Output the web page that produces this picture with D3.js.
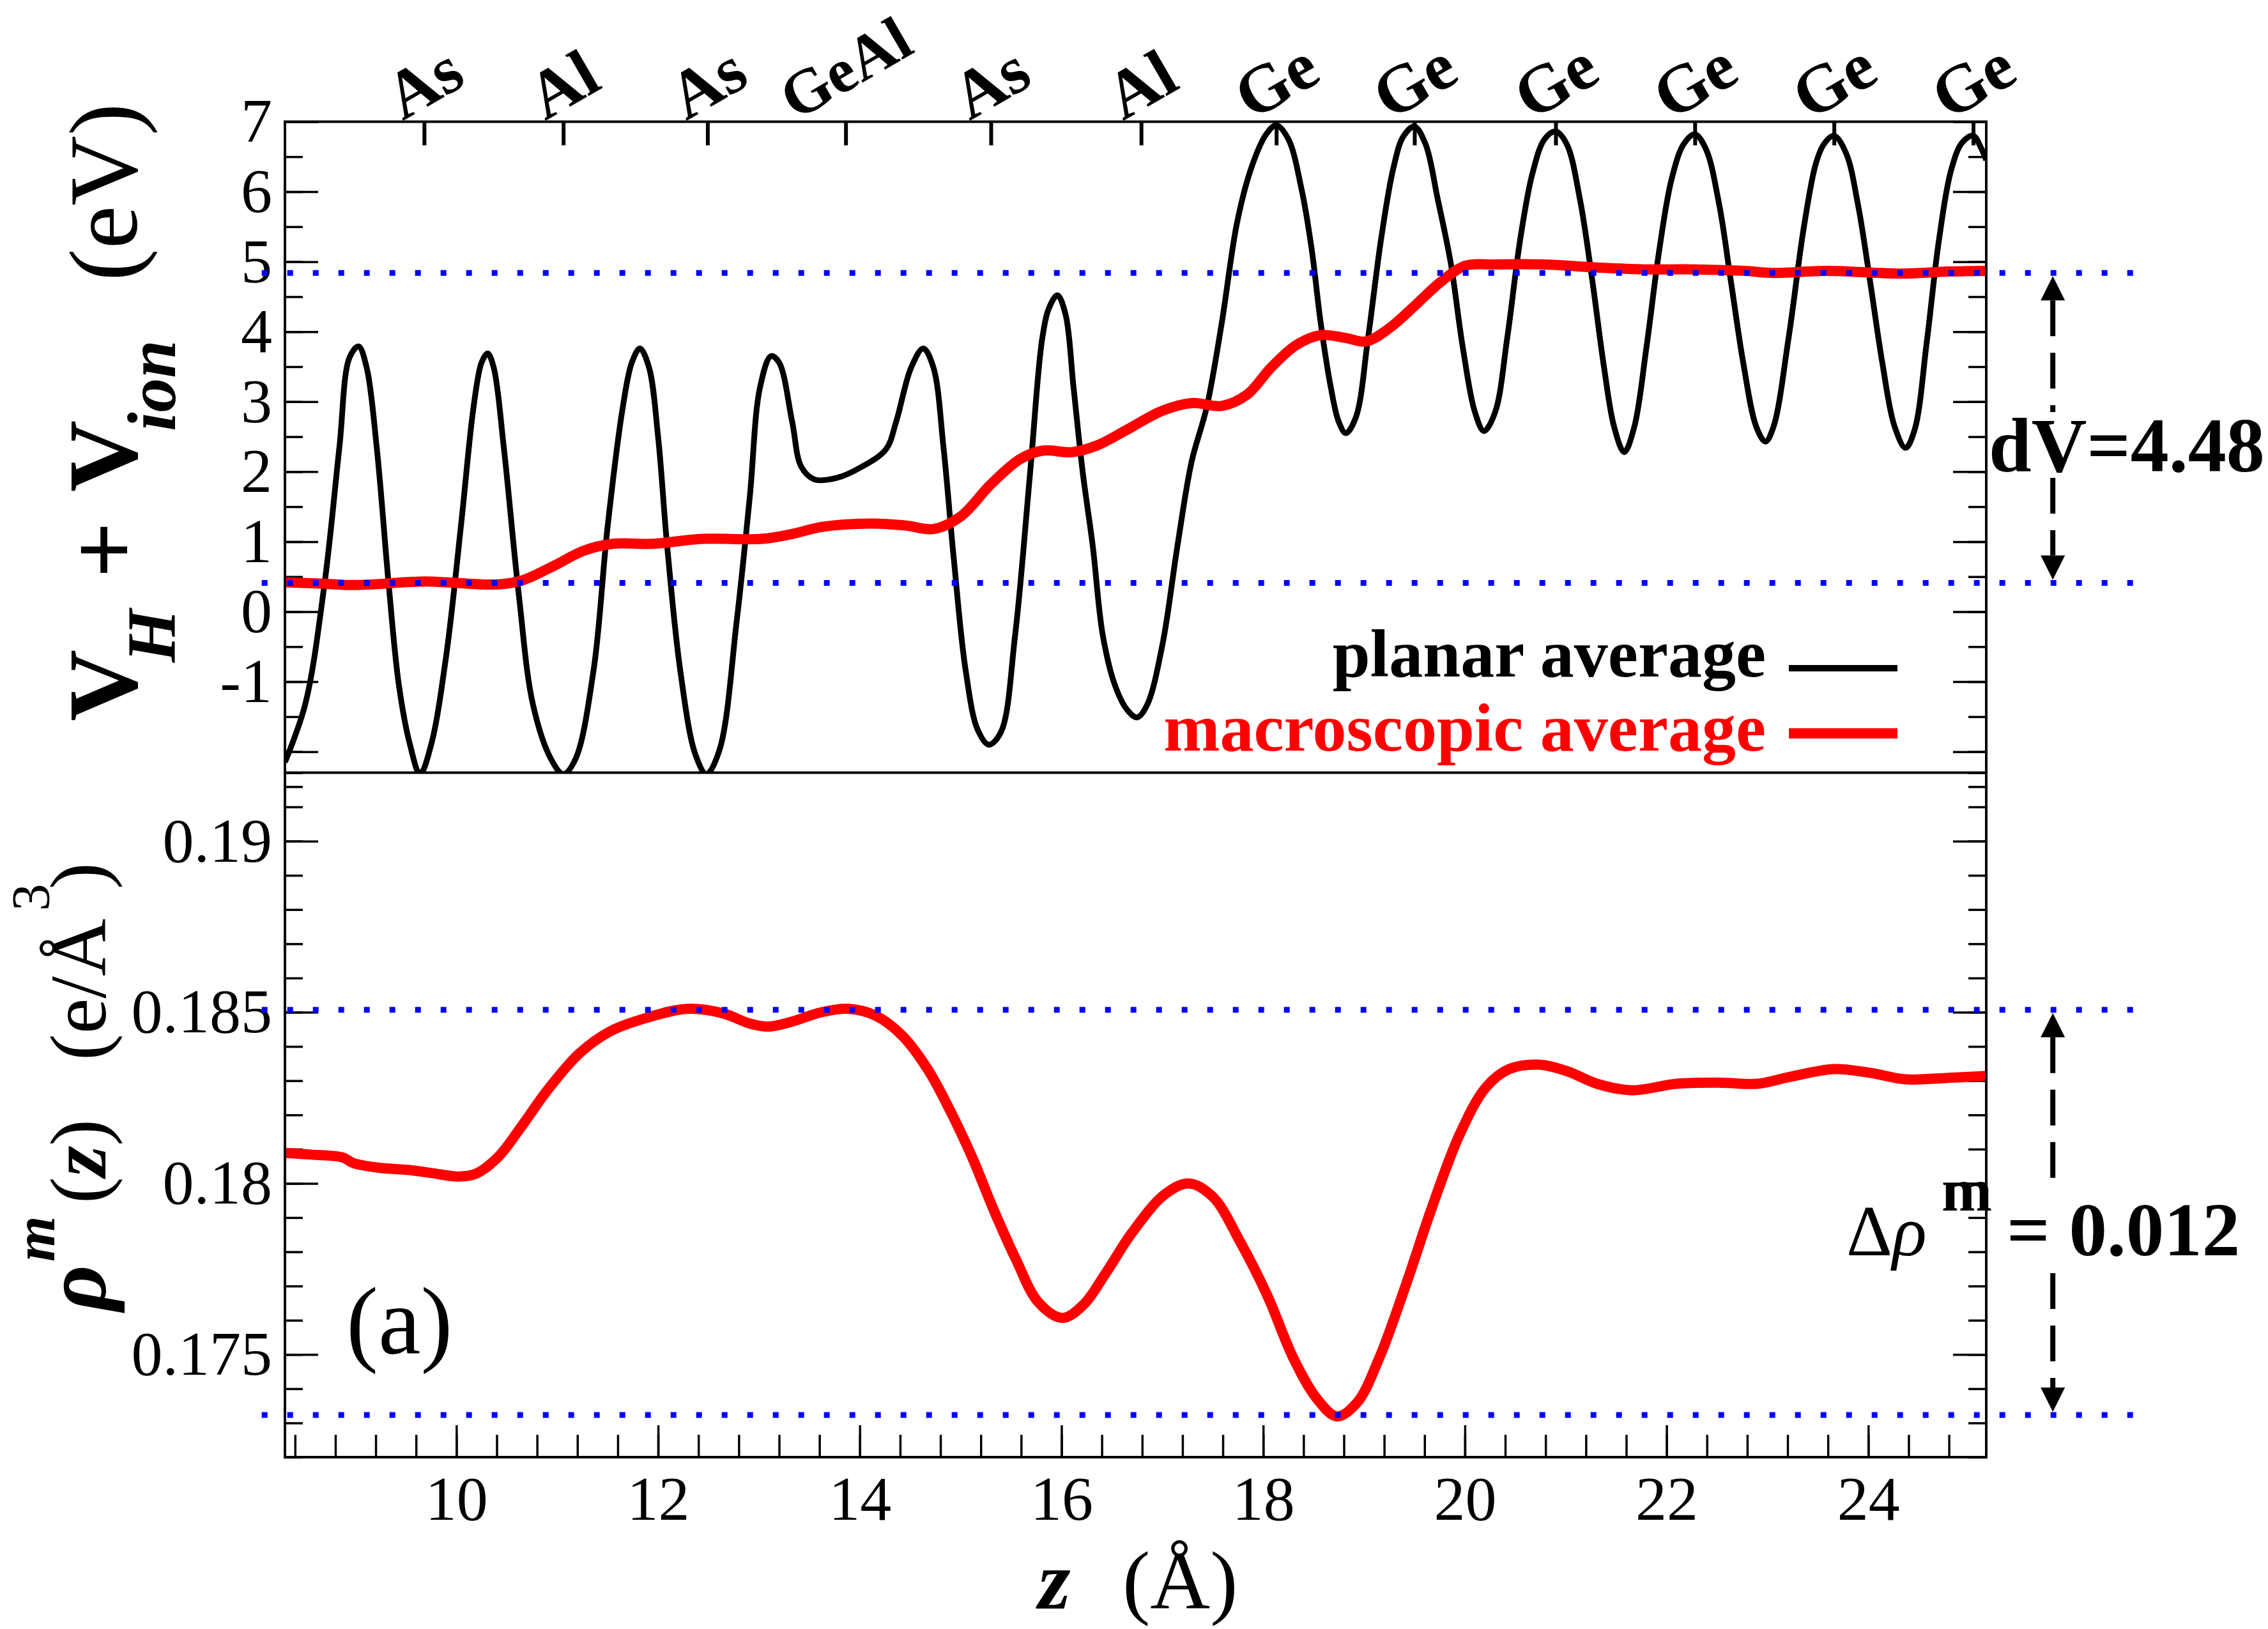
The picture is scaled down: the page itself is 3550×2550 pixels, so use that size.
<!DOCTYPE html>
<html>
<head>
<meta charset="utf-8">
<script src="https://cdn.jsdelivr.net/npm/d3@7"></script>
<style>
  body { margin: 0; background: #fff; }
  svg { display: block; font-family: "Liberation Serif", "Times New Roman", serif; }
</style>
</head>
<body>
<div id="chart"></div>
<script>
// planar average of V_H + V_ion (top panel)
const planarZ = [8.30,8.50,8.69,8.84,8.94,9.03,9.11,9.21,9.33,9.43,9.54,9.64,9.75,9.90,10.05,10.17,10.25,10.31,10.37,10.47,10.62,10.76,10.94,11.06,11.18,11.36,11.50,11.65,11.74,11.82,11.91,12.00,12.09,12.22,12.37,12.48,12.61,12.78,12.91,13.01,13.12,13.20,13.33,13.42,13.55,13.77,14.02,14.26,14.36,14.51,14.63,14.73,14.83,14.93,15.05,15.17,15.28,15.40,15.54,15.69,15.81,15.88,15.96,16.04,16.12,16.21,16.31,16.41,16.53,16.65,16.75,16.85,17.00,17.15,17.29,17.44,17.59,17.74,17.88,18.03,18.13,18.25,18.38,18.48,18.57,18.67,18.75,18.82,18.92,19.04,19.17,19.29,19.39,19.50,19.61,19.73,19.86,19.98,20.10,20.19,20.30,20.42,20.55,20.67,20.79,20.90,21.01,21.14,21.26,21.38,21.48,21.58,21.68,21.80,21.93,22.05,22.17,22.28,22.39,22.52,22.64,22.76,22.89,22.98,23.06,23.21,23.36,23.48,23.56,23.66,23.78,23.90,24.02,24.14,24.26,24.37,24.46,24.58,24.70,24.82,24.93,25.04,25.12,25.17];
const planarV = [-2.15,-1.33,0.37,2.35,3.63,3.79,3.49,2.35,0.37,-1.05,-1.90,-2.32,-1.90,-0.62,1.29,2.92,3.56,3.69,3.49,2.35,0.23,-1.33,-2.11,-2.32,-2.11,-0.84,1.22,2.92,3.56,3.76,3.49,2.50,0.94,-0.84,-2.04,-2.32,-1.97,-0.13,1.65,3.20,3.65,3.56,2.71,2.07,1.89,1.91,2.07,2.32,2.71,3.49,3.76,3.49,2.35,0.79,-0.84,-1.69,-1.90,-1.72,-0.34,2.00,3.91,4.35,4.52,4.25,3.20,2.00,0.94,-0.34,-1.05,-1.40,-1.51,-1.33,-0.48,0.94,2.14,2.92,4.13,5.55,6.33,6.82,6.95,6.75,6.04,5.19,4.13,3.21,2.71,2.55,2.78,3.91,5.33,6.33,6.79,6.93,6.68,5.90,4.98,3.77,2.85,2.58,2.85,3.91,5.33,6.26,6.75,6.86,6.68,5.90,4.77,3.49,2.64,2.28,2.64,3.77,5.19,6.18,6.68,6.82,6.61,5.83,4.70,3.56,2.64,2.43,2.64,3.91,5.48,6.40,6.68,6.80,6.55,5.80,4.70,3.55,2.65,2.34,2.60,3.85,5.30,6.30,6.70,6.80,6.62,6.45];

// macroscopic average of V_H + V_ion (top panel)
const macroZ = [8.30,8.69,8.99,9.68,10.00,10.42,10.66,10.96,11.26,11.55,11.95,12.44,13.03,13.33,13.62,14.11,14.46,14.73,15.00,15.30,15.59,15.81,16.11,16.36,16.65,17.00,17.29,17.59,17.84,18.08,18.33,18.57,18.82,19.02,19.26,19.51,19.76,20.00,20.30,20.79,21.28,21.78,22.27,22.76,23.06,23.59,24.31,24.80,25.17];
const macroV = [0.42,0.40,0.38,0.43,0.41,0.39,0.45,0.65,0.87,0.97,0.97,1.04,1.04,1.11,1.21,1.26,1.23,1.18,1.36,1.82,2.18,2.30,2.28,2.38,2.60,2.87,2.98,2.94,3.10,3.49,3.81,3.95,3.91,3.86,4.06,4.38,4.71,4.94,4.96,4.96,4.92,4.89,4.89,4.87,4.84,4.87,4.83,4.86,4.87];

// macroscopic charge density rho^m(z) (bottom panel)
const rhoZ = [8.30,8.56,8.87,8.98,9.22,9.53,9.76,10.02,10.20,10.42,10.64,10.91,11.22,11.53,11.89,12.29,12.64,12.91,13.09,13.31,13.62,13.89,14.15,14.42,14.67,14.88,15.11,15.33,15.55,15.77,16.01,16.22,16.44,16.70,17.02,17.26,17.50,17.77,18.04,18.30,18.53,18.73,18.93,19.15,19.41,19.68,19.95,20.21,20.44,20.73,21.01,21.32,21.66,22.10,22.55,22.90,23.22,23.66,24.02,24.37,24.77,25.17];
const rhoV = [0.18089,0.18084,0.18076,0.18059,0.18046,0.18039,0.18030,0.18020,0.18029,0.18079,0.18164,0.18275,0.18380,0.18445,0.18484,0.18510,0.18497,0.18467,0.18458,0.18471,0.18500,0.18510,0.18491,0.18432,0.18335,0.18222,0.18079,0.17921,0.17777,0.17653,0.17607,0.17646,0.17738,0.17856,0.17967,0.18000,0.17961,0.17830,0.17673,0.17489,0.17372,0.17319,0.17359,0.17489,0.17699,0.17935,0.18144,0.18281,0.18334,0.18347,0.18328,0.18290,0.18272,0.18291,0.18294,0.18291,0.18311,0.18334,0.18323,0.18304,0.18308,0.18314];

// atom planes on the top axis
const atomNames = ["As","Al","As","GeAl","As","Al","Ge","Ge","Ge","Ge","Ge","Ge"];
const atomZ = [9.68,11.06,12.49,13.86,15.30,16.79,18.13,19.50,20.90,22.28,23.66,25.04];

// ticks
const zTicks = [10,12,14,16,18,20,22,24];
const zMinor = d3.range(8.4, 25.17, 0.4);
const vTicks = [-2,-1,0,1,2,3,4,5,6,7];
const vMinor = d3.range(-2.5, 7, 0.5);
const rhoTicks = [0.175,0.18,0.185,0.19];
const rhoMinor = d3.range(0.172, 0.1925, 0.001);

// dotted reference levels, arrows
const vLevels = [0.41, 4.84];
const rhoLevels = [0.17323, 0.18507];
const refExtent = [8.07, 26.66];
const arrowZ = 25.83;

let width = 3550, height = 2550;
let plot = { left: 446, right: 3109, top: 190.5, mid: 1209.5, bottom: 2281 };
const serif = '"Liberation Serif", "Times New Roman", serif';

const svg = d3.select("#chart")
  .append("svg")
  .attr("width", width)
  .attr("height", height)
  .attr("viewBox", [0, 0, width, height]);

svg.append("rect").attr("width", width).attr("height", height).attr("fill", "white");

let x = d3.scaleLinear().domain([8.3, 25.17]).range([plot.left, plot.right]);
let yTop = d3.scaleLinear().domain([-2.3, 7]).range([plot.mid, plot.top]);
let yBot = d3.scaleLinear().domain([0.172, 0.192]).range([plot.bottom, plot.mid]);

const defs = svg.append("defs");
defs.append("clipPath").attr("id", "clipTop").append("rect")
  .attr("x", plot.left).attr("y", plot.top)
  .attr("width", plot.right - plot.left).attr("height", plot.mid - plot.top);
defs.append("clipPath").attr("id", "clipBot").append("rect")
  .attr("x", plot.left).attr("y", plot.mid)
  .attr("width", plot.right - plot.left).attr("height", plot.bottom - plot.mid);

// axes helper: kill domain, set serif text
function tidy(g, sw) {
  g.select(".domain").remove();
  g.selectAll("line").attr("stroke", "black").attr("stroke-width", sw || 3.5);
  g.attr("font-family", serif).attr("font-size", 98);
  g.selectAll("text").attr("fill", "black");
}

// top panel axes
svg.append("g").attr("transform", `translate(${plot.left},0)`)
  .call(d3.axisLeft(yTop).tickValues(vMinor).tickSize(-28).tickFormat(""))
  .call(tidy);
svg.append("g").attr("transform", `translate(${plot.left},0)`)
  .call(d3.axisLeft(yTop).tickValues(vTicks).tickSize(-52).tickPadding(20)
    .tickFormat(d => d >= -1 ? String(d) : ""))
  .call(tidy);
svg.append("g").attr("transform", `translate(${plot.right},0)`)
  .call(d3.axisRight(yTop).tickValues(vMinor).tickSize(-28).tickFormat(""))
  .call(tidy);
svg.append("g").attr("transform", `translate(${plot.right},0)`)
  .call(d3.axisRight(yTop).tickValues(vTicks).tickSize(-52).tickFormat(""))
  .call(tidy);

// bottom panel axes
svg.append("g").attr("transform", `translate(${plot.left},0)`)
  .call(d3.axisLeft(yBot).tickValues(rhoMinor).tickSize(-28).tickFormat(""))
  .call(tidy);
svg.append("g").attr("transform", `translate(${plot.left},0)`)
  .call(d3.axisLeft(yBot).tickValues(rhoTicks).tickSize(-52).tickPadding(20)
    .tickFormat(d => String(+d.toFixed(3))))
  .call(tidy);
svg.append("g").attr("transform", `translate(${plot.right},0)`)
  .call(d3.axisRight(yBot).tickValues(rhoMinor).tickSize(-28).tickFormat(""))
  .call(tidy);
svg.append("g").attr("transform", `translate(${plot.right},0)`)
  .call(d3.axisRight(yBot).tickValues(rhoTicks).tickSize(-52).tickFormat(""))
  .call(tidy);

// bottom x axis
svg.append("g").attr("transform", `translate(0,${plot.bottom})`)
  .call(d3.axisBottom(x).tickValues(zMinor).tickSize(-35).tickFormat(""))
  .call(tidy);
svg.append("g").attr("transform", `translate(0,${plot.bottom})`)
  .call(d3.axisBottom(x).tickValues(zTicks).tickSize(-50).tickPadding(28).tickFormat(d => String(d)))
  .call(tidy);

// top atom axis
svg.append("g").attr("transform", `translate(0,${plot.top})`)
  .call(d3.axisTop(x).tickValues(atomZ).tickSize(-37).tickFormat(""))
  .call(g => tidy(g, 6));

// rotated atom labels, ink box centred over the tick; shrink a label if its box leaves the page
const atomG = svg.append("g")
  .attr("font-family", serif).attr("font-weight", "bold");
atomNames.forEach((name, i) => {
  const t = atomG.append("text").text(name);
  const a = Math.PI / 6;
  let fs = 106;
  const place = () => {
    t.attr("font-size", fs).attr("transform", null);
    const w = t.node().getComputedTextLength();
    const sx = x(atomZ[i]) - (w * Math.cos(a) - 0.66 * fs * Math.sin(a)) / 2;
    t.attr("transform", `translate(${sx},${plot.top - 1}) rotate(-30)`);
  };
  place();
  while (t.node().getBoundingClientRect().top < 2 && fs > 80) { fs -= 2; place(); }
});

// curves
const line = (yScale) => d3.line()
  .x(d => x(d[0]))
  .y(d => yScale(d[1]))
  .curve(d3.curveCatmullRom.alpha(0.5));

svg.append("path")
  .datum(d3.zip(planarZ, planarV))
  .attr("clip-path", "url(#clipTop)")
  .attr("fill", "none").attr("stroke", "black").attr("stroke-width", 9)
  .attr("stroke-linejoin", "round")
  .attr("d", line(yTop));

svg.append("path")
  .datum(d3.zip(macroZ, macroV))
  .attr("clip-path", "url(#clipTop)")
  .attr("fill", "none").attr("stroke", "#ff0000").attr("stroke-width", 16)
  .attr("stroke-linejoin", "round")
  .attr("d", line(yTop));

svg.append("path")
  .datum(d3.zip(rhoZ, rhoV))
  .attr("clip-path", "url(#clipBot)")
  .attr("fill", "none").attr("stroke", "#ff0000").attr("stroke-width", 16)
  .attr("stroke-linejoin", "round")
  .attr("d", line(yBot));

// blue dotted reference lines
const refG = svg.append("g")
  .attr("stroke", "#0000ff").attr("stroke-width", 9).attr("stroke-dasharray", "9,31");
refG.selectAll(".vref").data(vLevels).join("line")
  .attr("class", "vref")
  .attr("x1", x(refExtent[0])).attr("x2", x(refExtent[1]))
  .attr("y1", d => yTop(d)).attr("y2", d => yTop(d));
refG.selectAll(".rref").data(rhoLevels).join("line")
  .attr("class", "rref")
  .attr("x1", x(refExtent[0])).attr("x2", x(refExtent[1]))
  .attr("y1", d => yBot(d)).attr("y2", d => yBot(d));

// frame
svg.append("rect")
  .attr("x", plot.left).attr("y", plot.top)
  .attr("width", plot.right - plot.left).attr("height", plot.bottom - plot.top)
  .attr("fill", "none").attr("stroke", "black").attr("stroke-width", 4);
svg.append("line")
  .attr("x1", plot.left).attr("x2", plot.right)
  .attr("y1", plot.mid).attr("y2", plot.mid)
  .attr("stroke", "black").attr("stroke-width", 4);

// double arrows with a gap for the text
function dashedArrow(yHi, yLo, gapTop, gapBot) {
  const ax = x(arrowZ), head = 38, half = 19;
  const tipT = yHi + 5, tipB = yLo - 5;
  const g = svg.append("g");
  g.append("path").attr("fill", "black")
    .attr("d", `M${ax},${tipT}L${ax - half},${tipT + head}L${ax + half},${tipT + head}Z`);
  g.append("path").attr("fill", "black")
    .attr("d", `M${ax},${tipB}L${ax - half},${tipB - head}L${ax + half},${tipB - head}Z`);
  const segs = [[tipT + head, gapTop], [gapBot, tipB - head]];
  g.selectAll("line").data(segs).join("line")
    .attr("x1", ax).attr("x2", ax)
    .attr("y1", d => d[0]).attr("y2", d => d[1])
    .attr("stroke", "black").attr("stroke-width", 8).attr("stroke-dasharray", "56,26");
}
dashedArrow(yTop(vLevels[1]), yTop(vLevels[0]), 645, 748);
dashedArrow(yBot(rhoLevels[1]), yBot(rhoLevels[0]), 1866, 1993);

svg.append("text")
  .attr("x", 3113).attr("y", 738)
  .attr("font-family", serif).attr("font-size", 120).attr("font-weight", "bold")
  .text("dV=4.48");

const dr = svg.append("g").attr("font-family", serif);
dr.append("text").attr("x", 2890).attr("y", 1965).attr("font-size", 112)
  .text("Δ").append("tspan").attr("font-style", "italic").text("ρ");
dr.append("text").attr("x", 3039).attr("y", 1895).attr("font-size", 95).attr("font-weight", "bold")
  .text("m");
dr.append("text").attr("x", 3141).attr("y", 1965).attr("font-size", 119).attr("font-weight", "bold")
  .text("= 0.012");

// legend
const leg = svg.append("g").attr("font-family", serif).attr("font-size", 106).attr("font-weight", "bold");
leg.append("text").attr("x", 2764).attr("y", 1059).attr("text-anchor", "end")
  .attr("fill", "black").text("planar average");
leg.append("text").attr("x", 2764).attr("y", 1175).attr("text-anchor", "end")
  .attr("fill", "#ff0000").text("macroscopic average");
leg.append("line").attr("x1", 2800).attr("x2", 2970).attr("y1", 1046).attr("y2", 1046)
  .attr("stroke", "black").attr("stroke-width", 10);
leg.append("line").attr("x1", 2800).attr("x2", 2970).attr("y1", 1148).attr("y2", 1148)
  .attr("stroke", "#ff0000").attr("stroke-width", 16);

// panel tag
svg.append("text").attr("x", 542).attr("y", 2119)
  .attr("font-family", serif).attr("font-size", 150).text("(a)");

// x label
const xl = svg.append("g").attr("font-family", serif).attr("font-size", 130);
xl.append("text").attr("x", 1625).attr("y", 2518)
  .attr("font-style", "italic").attr("font-weight", "bold").text("z");
xl.append("text").attr("x", 1757).attr("y", 2518).text("(Å)");

// top y label
const yl1 = svg.append("g").attr("font-family", serif)
  .attr("transform", "translate(214,0) rotate(-90)");
yl1.append("text").attr("x", -1129).attr("font-size", 155).attr("font-weight", "bold").text("V");
yl1.append("text").attr("x", -1037).attr("y", 60).attr("font-size", 107)
  .attr("font-weight", "bold").attr("font-style", "italic").text("H");
yl1.append("text").attr("x", -905).attr("font-size", 155).attr("font-weight", "bold").text("+");
yl1.append("text").attr("x", -770).attr("font-size", 155).attr("font-weight", "bold").text("V");
yl1.append("text").attr("x", -675).attr("y", 60).attr("font-size", 107)
  .attr("font-weight", "bold").attr("font-style", "italic").text("ion");
yl1.append("text").attr("x", -440).attr("font-size", 152).text("(eV)");

// bottom y label
const yl2 = svg.append("g").attr("font-family", serif)
  .attr("transform", "translate(165,0) rotate(-90)");
yl2.append("text").attr("x", -2052).attr("font-size", 140)
  .attr("font-weight", "bold").attr("font-style", "italic").text("ρ");
yl2.append("text").attr("x", -1975).attr("y", -80).attr("font-size", 92)
  .attr("font-weight", "bold").attr("font-style", "italic").text("m");
const zt = yl2.append("text").attr("x", -1884).attr("font-size", 125).text("(");
zt.append("tspan").attr("font-weight", "bold").attr("font-style", "italic").text("z");
zt.append("tspan").text(")");
yl2.append("text").attr("x", -1660).attr("font-size", 125).text("(e/Å");
yl2.append("text").attr("x", -1426).attr("y", -88).attr("font-size", 85).text("3");
yl2.append("text").attr("x", -1392).attr("font-size", 125).text(")");
</script>
</body>
</html>
